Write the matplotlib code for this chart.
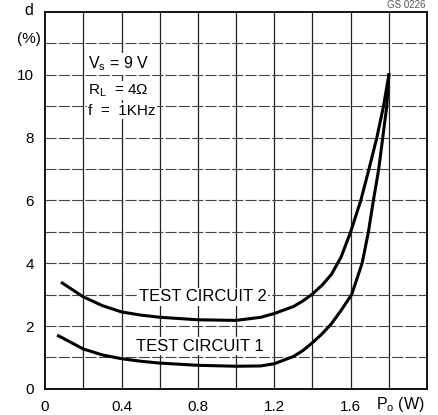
import matplotlib.pyplot as plt

# output power (W) and distortion (%)
p_tc2 = [0.09, 0.2, 0.3, 0.4, 0.5, 0.6, 0.8, 1.0, 1.13, 1.2, 1.3, 1.35, 1.4, 1.45, 1.5, 1.55,
         1.6, 1.653, 1.696, 1.737, 1.772, 1.8]
d_tc2 = [3.37, 2.93, 2.65, 2.45, 2.35, 2.28, 2.2, 2.18, 2.28, 2.4, 2.62, 2.8, 3.02, 3.3, 3.65, 4.2,
         5.0, 6.0, 7.0, 8.0, 9.0, 10.0]

p_tc1 = [0.07, 0.2, 0.3, 0.4, 0.5, 0.6, 0.8, 1.0, 1.13, 1.2, 1.3, 1.35, 1.4, 1.45, 1.5, 1.55,
         1.605, 1.66, 1.693, 1.719, 1.747, 1.768, 1.789, 1.8]
d_tc1 = [1.69, 1.27, 1.08, 0.96, 0.88, 0.82, 0.75, 0.72, 0.73, 0.8, 1.03, 1.22, 1.47, 1.75, 2.08, 2.5,
         3.0, 4.0, 5.0, 6.0, 7.0, 8.0, 9.0, 10.0]

x_ticks = [0, 0.4, 0.8, 1.2, 1.6]
x_ticklabels = ['0', '0.4', '0.8', '1.2', '1.6']
y_ticks = [0, 2, 4, 6, 8, 10]

plt.rcParams['font.family'] = ['Liberation Sans', 'DejaVu Sans']

fig = plt.figure(figsize=(4.38, 4.15), dpi=100)
ax = fig.add_axes([0.103, 0.063, 0.872, 0.908])

ax.set_xlim(0, 2.0)
ax.set_ylim(0, 12)

# grid every 0.2 W and every 1 %
for gx in [i * 0.2 for i in range(1, 10)]:
    ax.axvline(gx, color='#222222', lw=0.9, zorder=1)
for gy in range(1, 12):
    ax.axhline(gy, color='#444444', lw=0.8, ls=(0, (10, 2)), zorder=1)

ax.plot(p_tc2, d_tc2, color='black', lw=2.2, zorder=3, solid_joinstyle='round')
ax.plot(p_tc1, d_tc1, color='black', lw=2.2, zorder=3, solid_joinstyle='round')

ax.set_xticks(x_ticks)
ax.set_xticklabels(x_ticklabels)
ax.set_yticks(y_ticks)
ax.tick_params(length=0, labelsize=11, pad=8)

for s in ax.spines.values():
    s.set_linewidth(1.3)

wb = dict(facecolor='white', edgecolor='none', pad=1)
ax.text(0.826, 2.93, 'TEST CIRCUIT 2', fontsize=12, ha='center', va='center', bbox=wb, zorder=4)
ax.text(0.81, 1.36, 'TEST CIRCUIT 1', fontsize=12, ha='center', va='center', bbox=wb, zorder=4)

ax.text(0.225, 10.35, r'V$_\mathregular{s}$ = 9 V', fontsize=11.5, ha='left', va='center', bbox=wb, zorder=4)
ax.text(0.225, 9.5, r'R$_\mathregular{L}$  = 4Ω', fontsize=11, ha='left', va='center', bbox=wb, zorder=4)
ax.text(0.225, 8.85, 'f  =  1KHz', fontsize=11, ha='left', va='center', bbox=wb, zorder=4)

fig.text(0.065, 0.975, 'd', fontsize=11.5, ha='center', va='center')
fig.text(0.065, 0.905, '(%)', fontsize=11, ha='center', va='center')
fig.text(0.915, 0.025, r'P$_\mathregular{o}$ (W)', fontsize=11.5, ha='center', va='center')
fig.text(0.972, 0.988, 'GS 0226', fontsize=7, ha='right', va='center', color='#555555')

fig.savefig('out.png', dpi=100)
